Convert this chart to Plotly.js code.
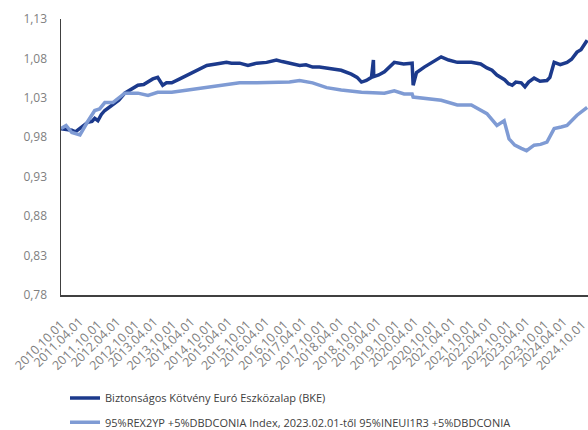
<!DOCTYPE html>
<html>
<head>
<meta charset="utf-8">
<script src="https://cdn.plot.ly/plotly-3.0.1.min.js"></script>
<style>html,body{margin:0;padding:0;background:#fff;}#chart{width:588px;height:430px;}</style>
</head>
<body>
<div id="chart"></div>
<script>
// Series 1: Biztonságos Kötvény Euró Eszközalap (BKE)
const fundDates = ['2010-10-01','2010-11-20','2011-01-15','2011-02-20','2011-04-05','2011-05-15','2011-06-20','2011-08-01','2011-08-28','2011-09-28','2011-11-01','2011-12-05','2012-02-22','2012-04-20','2012-06-18','2012-08-20','2012-10-25','2012-12-20','2013-02-01','2013-03-20','2013-05-07','2013-06-25','2013-08-01','2013-09-22','2013-12-10','2014-02-28','2014-06-01','2014-09-01','2014-12-01','2015-03-13','2015-05-01','2015-07-20','2015-10-10','2016-01-05','2016-04-10','2016-07-15','2016-09-10','2016-11-20','2017-02-28','2017-05-01','2017-07-05','2017-09-10','2017-11-20','2018-02-01','2018-04-12','2018-07-20','2018-09-15','2018-10-28','2018-12-15','2019-02-03','2019-02-22','2019-02-25','2019-04-15','2019-06-10','2019-09-15','2019-12-15','2020-03-08','2020-03-18','2020-04-20','2020-07-05','2020-10-01','2020-12-18','2021-03-01','2021-05-25','2021-10-10','2022-01-10','2022-03-12','2022-05-01','2022-06-18','2022-08-01','2022-09-01','2022-10-10','2022-11-15','2022-12-20','2023-02-12','2023-03-20','2023-04-25','2023-06-18','2023-08-15','2023-10-22','2023-11-20','2024-01-01','2024-03-01','2024-05-06','2024-06-20','2024-08-12','2024-09-20','2024-11-20'];
const fundValues = [0.991,0.990,0.989,0.987,0.991,0.996,0.999,1.000,1.004,1.001,1.009,1.014,1.021,1.027,1.036,1.041,1.046,1.047,1.050,1.054,1.056,1.046,1.049,1.049,1.054,1.059,1.066,1.071,1.073,1.075,1.074,1.074,1.071,1.074,1.075,1.078,1.076,1.074,1.071,1.072,1.069,1.069,1.068,1.066,1.065,1.060,1.056,1.050,1.052,1.056,1.078,1.057,1.059,1.063,1.075,1.073,1.074,1.046,1.062,1.069,1.076,1.082,1.078,1.075,1.075,1.073,1.068,1.065,1.059,1.056,1.053,1.048,1.046,1.050,1.049,1.044,1.050,1.055,1.051,1.052,1.056,1.075,1.072,1.075,1.079,1.088,1.091,1.103];

// Series 2: benchmark index
const benchDates = ['2010-10-01','2010-11-20','2011-01-15','2011-04-05','2011-06-20','2011-08-28','2011-10-15','2011-12-05','2012-02-22','2012-06-18','2012-10-25','2013-02-01','2013-05-07','2013-09-22','2014-02-28','2014-09-01','2015-03-13','2015-07-20','2016-01-05','2016-07-15','2016-11-20','2017-02-28','2017-07-05','2017-11-20','2018-04-12','2018-10-28','2019-06-10','2019-09-15','2019-12-20','2020-03-08','2020-03-18','2020-12-18','2021-05-25','2021-10-10','2022-03-12','2022-06-18','2022-08-28','2022-10-15','2022-12-10','2023-02-12','2023-04-05','2023-06-18','2023-08-20','2023-10-22','2024-01-01','2024-03-10','2024-05-06','2024-08-12','2024-11-20'];
const benchValues = [0.991,0.995,0.986,0.983,1.000,1.014,1.016,1.024,1.024,1.036,1.036,1.033,1.037,1.037,1.040,1.043,1.046,1.049,1.049,1.050,1.050,1.052,1.049,1.043,1.040,1.037,1.036,1.039,1.035,1.035,1.031,1.027,1.021,1.021,1.010,0.995,1.001,0.978,0.970,0.966,0.963,0.970,0.971,0.974,0.991,0.993,0.995,1.008,1.018];

const seriesNames = ['Biztonságos Kötvény Euró Eszközalap (BKE)', '95%REX2YP +5%DBDCONIA Index, 2023.02.01-től 95%INEUI1R3 +5%DBDCONIA'];

const yTicks = [0.78, 0.83, 0.88, 0.93, 0.98, 1.03, 1.08, 1.13];
const xTickVals = ['2010-10-01','2011-04-01','2011-10-01','2012-04-01','2012-10-01','2013-04-01','2013-10-01','2014-04-01','2014-10-01','2015-04-01','2015-10-01','2016-04-01','2016-10-01','2017-04-01','2017-10-01','2018-04-01','2018-10-01','2019-04-01','2019-10-01','2020-04-01','2020-10-01','2021-04-01','2021-10-01','2022-04-01','2022-10-01','2023-04-01','2023-10-01','2024-04-01','2024-10-01'];
const xTickText = ['2010.10.01','2011.04.01','2011.10.01','2012.04.01','2012.10.01','2013.04.01','2013.10.01','2014.04.01','2014.10.01','2015.04.01','2015.10.01','2016.04.01','2016.10.01','2017.04.01','2017.10.01','2018.04.01','2018.10.01','2019.04.01','2019.10.01','2020.04.01','2020.10.01','2021.04.01','2021.10.01','2022.04.01','2022.10.01','2023.04.01','2023.10.01','2024.04.01','2024.10.01'];

// split ticks across two overlaid axes so every label is drawn
const evenVals = xTickVals.filter((_, i) => i % 2 === 0), evenText = xTickText.filter((_, i) => i % 2 === 0);
const oddVals = xTickVals.filter((_, i) => i % 2 === 1), oddText = xTickText.filter((_, i) => i % 2 === 1);

const traces = [
  {x: fundDates, y: fundValues, name: seriesNames[0], type: 'scatter', mode: 'lines',
   line: {color: '#1c3a8c', width: 3.5}, legend: 'legend'},
  {x: benchDates, y: benchValues, name: seriesNames[1], type: 'scatter', mode: 'lines',
   line: {color: '#7f9bd4', width: 3.5}, legend: 'legend2'},
  // invisible carrier so the overlaid second x axis (odd tick labels) is drawn
  {x: benchDates, y: benchValues, xaxis: 'x2', yaxis: 'y', type: 'scatter', mode: 'lines',
   line: {color: 'rgba(0,0,0,0)', width: 0}, showlegend: false, hoverinfo: 'skip'}
];

const xRange = ['2010-10-01', '2024-11-28'];
const yTickFont = {family: 'Open Sans, sans-serif', size: 12, color: '#7f7f7f'};
const xTickFont = {family: 'Open Sans, sans-serif', size: 12.5, color: '#7f7f7f'};
const legendFont = {family: 'Open Sans, sans-serif', size: 11, color: '#404040'};
const layout = {
  width: 588, height: 430,
  margin: {l: 61, r: 0, t: 19, b: 135},
  paper_bgcolor: '#fff', plot_bgcolor: '#fff',
  separators: ',.',
  showlegend: true,
  xaxis: {
    type: 'date', range: xRange,
    tickmode: 'array', tickvals: evenVals, ticktext: evenText,
    tickangle: -45, showgrid: false, zeroline: false,
    showline: true, linecolor: '#404040', linewidth: 1.5,
    ticks: '', ticklabelstandoff: 16, ticklabeloverflow: 'allow', tickfont: xTickFont
  },
  xaxis2: {
    type: 'date', range: xRange, overlaying: 'x', anchor: 'y', side: 'bottom',
    tickmode: 'array', tickvals: oddVals, ticktext: oddText,
    tickangle: -45, showgrid: false, zeroline: false, showline: false,
    ticks: '', ticklabelstandoff: 16, ticklabeloverflow: 'allow', tickfont: xTickFont
  },
  yaxis: {
    range: [0.78, 1.13], tickmode: 'array', tickvals: yTicks,
    tickformat: '.2f', showgrid: false, zeroline: false,
    showline: true, linecolor: '#404040', linewidth: 1.5,
    ticks: '', ticklabelstandoff: 10,
    tickfont: yTickFont
  },
  legend: {x: 0.0076, xanchor: 'left', yref: 'container', y: 0.0744, yanchor: 'middle', font: legendFont, bgcolor: 'rgba(0,0,0,0)'},
  legend2: {x: 0.0076, xanchor: 'left', yref: 'container', y: 0.018, yanchor: 'middle', font: legendFont, bgcolor: 'rgba(0,0,0,0)'}
};

Plotly.newPlot('chart', traces, layout, {displayModeBar: false, staticPlot: true});
</script>
</body>
</html>
